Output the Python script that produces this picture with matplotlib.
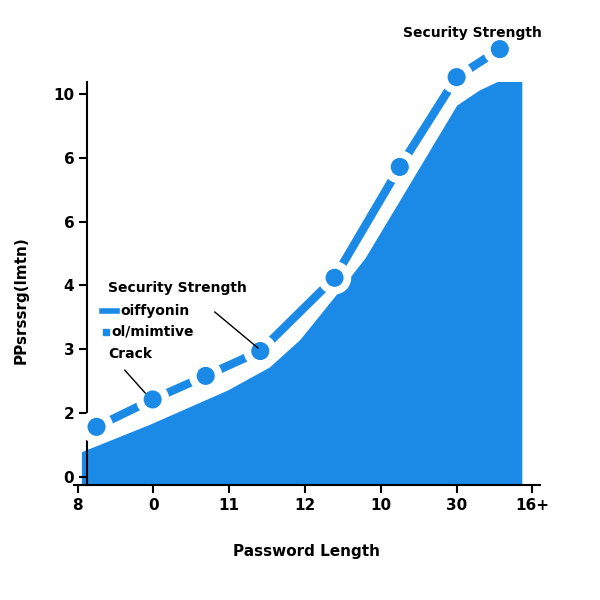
import matplotlib
matplotlib.use("Agg")
import matplotlib.pyplot as plt
import matplotlib.patheffects as pe

x_labels = ["8", "0", "11", "12", "10", "30", "16+"]
y_labels = ["0", "2", "3", "4", "6", "6", "10"]
line_x = [0.25, 0.99, 1.69, 2.41, 3.39, 4.25, 5.0, 5.57]
line_y = [0.78, 1.21, 1.58, 1.97, 3.12, 4.86, 6.27, 6.71]
area_x = [0.05, 0.95, 1.98, 2.53, 2.93, 3.46, 3.79, 4.25, 5.0, 5.30, 5.57, 5.86]
area_y = [0.39, 0.82, 1.36, 1.72, 2.15, 2.93, 3.43, 4.34, 5.83, 6.07, 6.22, 6.22]

blue = "#1a8ae6"
fig = plt.figure(figsize=(6, 6), dpi=100)
ax = fig.add_axes([0.123, 0.192, 0.777, 0.672])
ax.fill_between(area_x, -0.13, area_y, color=blue, lw=0)
ax.plot(line_x, line_y, color=blue, lw=6, marker="o", ms=12, clip_on=False, zorder=3,
        path_effects=[pe.Stroke(linewidth=12, foreground="white"), pe.Normal()])
ax.set_xlim(-0.05, 6.1)
ax.set_ylim(-0.13, 6.2)
ax.spines["left"].set_position(("data", 0.13))
for s in ["top", "right"]:
    ax.spines[s].set_visible(False)
ax.spines["left"].set_linewidth(1.5)
ax.spines["bottom"].set_linewidth(1.5)
ax.set_xticks(range(7))
ax.set_xticklabels(x_labels, fontsize=11, fontweight="bold")
ax.set_yticks(range(7))
ax.set_yticklabels(y_labels, fontsize=11, fontweight="bold")
ax.tick_params(length=6, width=1.5)
ax.set_xlabel("Password Length", fontsize=11, fontweight="bold", labelpad=22)
fig.text(0.035, 0.5, "PPsrssrg(lmtn)", rotation=90, va="center", ha="center",
         fontsize=11, fontweight="bold")
fig.text(0.788, 0.945, "Security Strength", ha="center", va="center", fontsize=10, fontweight="bold")

fig.text(0.18, 0.52, "Security Strength", fontsize=10, fontweight="bold", va="center")
fig.lines.append(plt.Line2D([0.17, 0.195], [0.482, 0.482], color=blue, lw=4, transform=fig.transFigure))
fig.text(0.2, 0.482, "oiffyonin", fontsize=10, fontweight="bold", va="center")
fig.patches.append(plt.Rectangle((0.172, 0.442), 0.01, 0.01, color=blue, transform=fig.transFigure))
fig.text(0.186, 0.447, "ol/mimtive", fontsize=10, fontweight="bold", va="center")
fig.text(0.18, 0.41, "Crack", fontsize=10, fontweight="bold", va="center")
fig.lines.append(plt.Line2D([0.358, 0.43], [0.48, 0.42], color="black", lw=1, transform=fig.transFigure))
fig.lines.append(plt.Line2D([0.208, 0.242], [0.383, 0.345], color="black", lw=1, transform=fig.transFigure))
fig.savefig("out.png")
